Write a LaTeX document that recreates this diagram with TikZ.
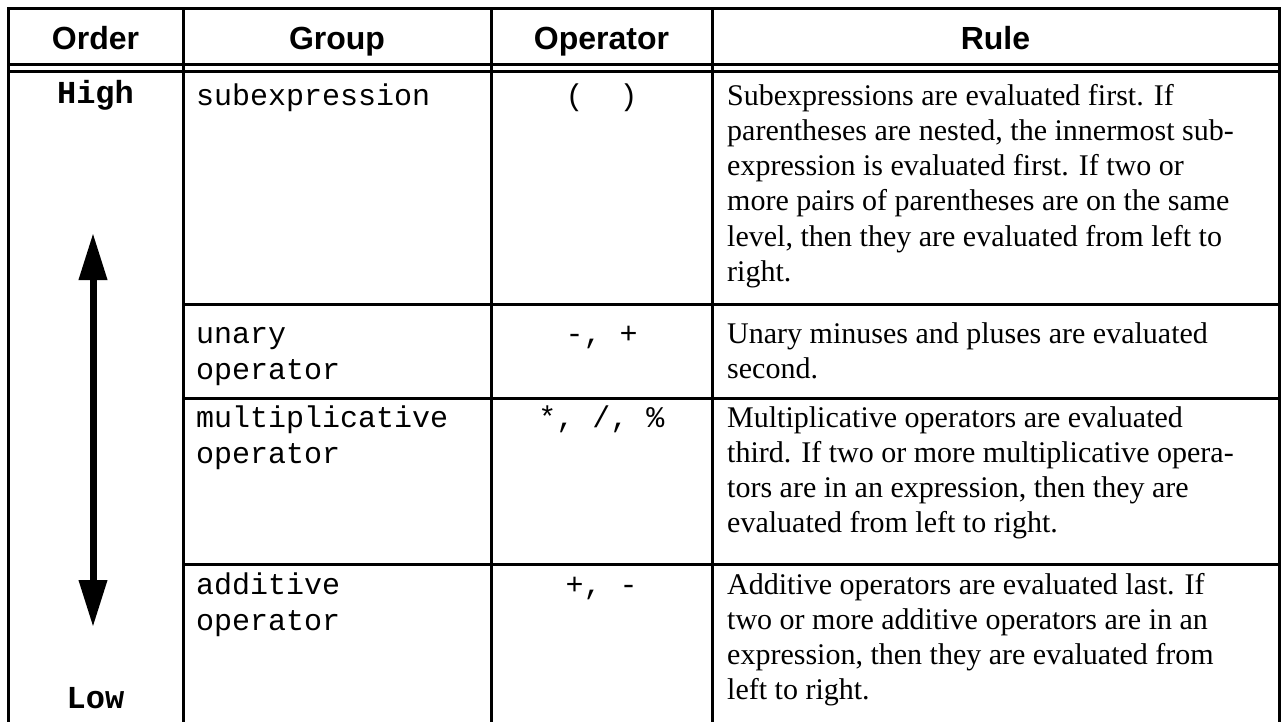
\documentclass[tikz,border=0pt]{standalone}
\usepackage{fontspec}
\setmainfont{Liberation Serif}
\setsansfont{Liberation Sans}
\setmonofont{Liberation Mono}
\usetikzlibrary{arrows.meta}
\begin{document}
\begin{tikzpicture}[x=1pt,y=-1pt,
  grid/.style={line width=3pt, line join=miter},
  hdr/.style={font=\sffamily\bfseries\fontsize{32}{36}\selectfont, anchor=base, inner sep=0},
  grp/.style={font=\ttfamily\fontsize{30}{36}\selectfont, anchor=base west, inner sep=0},
  op/.style={font=\ttfamily\fontsize{30}{36}\selectfont, anchor=base, inner sep=0},
  rl/.style={font=\rmfamily\fontsize{30}{35}\selectfont, anchor=base west, inner sep=0},
  ord/.style={font=\ttfamily\bfseries\fontsize{32}{36}\selectfont, anchor=base, inner sep=0},
  bigarrow/.style={line width=7pt, {Triangle[length=47pt,width=27pt]}-{Triangle[length=47pt,width=27pt]}}
]
\fill[white] (0,0) rectangle (1282,722);
\useasboundingbox (0,0) rectangle (1282,722);
% table rules
\draw[grid] (8,730) -- (8,9) -- (1279,9) -- (1279,730);
\draw[grid] (183,9) -- (183,730);
\draw[grid] (491,9) -- (491,730);
\draw[grid] (712,9) -- (712,730);
\draw[grid] (8,65) -- (1279,65);
\draw[grid] (8,72) -- (1279,72);
\draw[grid] (183,304) -- (1279,304);
\draw[grid] (183,398) -- (1279,398);
\draw[grid] (183,564) -- (1279,564);
% header
\node[hdr] (hOrder) at (95.5,50) {Order};
\node[hdr] (hGroup) at (337,50) {Group};
\node[hdr] (hOp) at (601.5,50) {Operator};
\node[hdr] (hRule) at (995.5,50) {Rule};
% order column
\node[ord] (hi) at (95.5,104) {High};
\node[ord] (lo) at (95.5,708) {Low};
\coordinate (atop) at (93,233);
\coordinate (abot) at (93,627);
\draw[bigarrow] (atop) -- (abot);
% group column
\node[grp] (g1) at (196,106) {subexpression};
\node[grp] (g2a) at (196,343) {unary};
\node[grp] (g2b) at (196,379) {operator};
\node[grp] (g3a) at (196,427) {multiplicative};
\node[grp] (g3b) at (196,463) {operator};
\node[grp] (g4a) at (196,594) {additive};
\node[grp] (g4b) at (196,630) {operator};
% operator column
\node[op] (o1) at (601.5,106) {(\ \ )};
\node[op] (o2) at (601.5,343) {-, +};
\node[op] (o3) at (601.5,427) {*, /, \%};
\node[op] (o4) at (601.5,594) {+, -};
% rule column
\node[rl] (r1a) at (727,106) {Subexpressions are evaluated first. If};
\node[rl] (r1b) at (727,141) {parentheses are nested, the innermost sub-};
\node[rl] (r1c) at (727,176) {expression is evaluated first. If two or};
\node[rl] (r1d) at (727,211) {more pairs of parentheses are on the same};
\node[rl] (r1e) at (727,246) {level, then they are evaluated from left to};
\node[rl] (r1f) at (727,281) {right.};
\node[rl] (r2a) at (727,343) {Unary minuses and pluses are evaluated};
\node[rl] (r2b) at (727,378) {second.};
\node[rl] (r3a) at (727,427) {Multiplicative operators are evaluated};
\node[rl] (r3b) at (727,462) {third. If two or more multiplicative opera-};
\node[rl] (r3c) at (727,497) {tors are in an expression, then they are};
\node[rl] (r3d) at (727,532) {evaluated from left to right.};
\node[rl] (r4a) at (727,594) {Additive operators are evaluated last. If};
\node[rl] (r4b) at (727,629) {two or more additive operators are in an};
\node[rl] (r4c) at (727,664) {expression, then they are evaluated from};
\node[rl] (r4d) at (727,699) {left to right.};
\end{tikzpicture}
\end{document}
